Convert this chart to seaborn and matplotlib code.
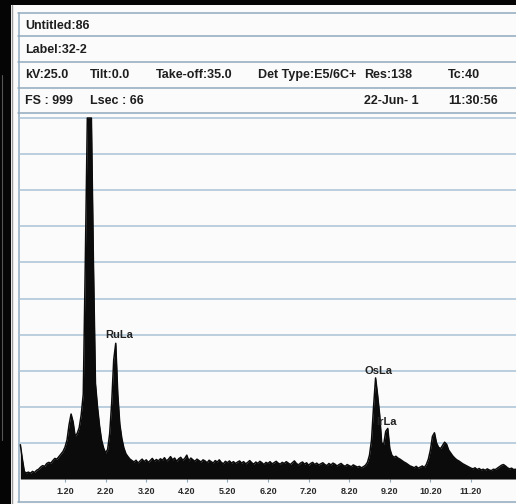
import numpy as np
import matplotlib
matplotlib.use("Agg")
import matplotlib.pyplot as plt
import seaborn as sns
from matplotlib.lines import Line2D
from matplotlib.patches import Rectangle

# EDS spectrum, one count per 0.05 keV channel starting at 0.10 keV
energy_start = 0.10
energy_step = 0.05
counts = [
    95, 55, 20, 17, 19, 16, 21, 18, 24, 27, 33, 37, 35, 43, 46, 44, 51, 57, 55, 62,
    69, 76, 88, 108, 150, 180, 158, 118, 126, 142, 178, 235, 600, 1000, 1000, 1000, 600, 265, 200, 148,
    108, 86, 72, 82, 125, 210, 330, 376, 235, 152, 112, 86, 70, 62, 55, 51, 47, 52, 44, 50,
    55, 48, 53, 46, 51, 57, 49, 54, 50, 56, 52, 59, 50, 55, 62, 53, 58, 49, 56, 60,
    52, 57, 66, 50, 58, 53, 49, 55, 51, 47, 53, 50, 45, 52, 48, 44, 51, 47, 53, 46,
    42, 49, 45, 50, 44, 48, 43, 47, 50, 44, 48, 42, 46, 51, 45, 41, 47, 43, 49, 45,
    40, 46, 43, 48, 42, 45, 49, 44, 41, 46, 43, 48, 44, 40, 45, 50, 43, 39, 44, 47,
    41, 45, 38, 43, 46, 40, 44, 39, 42, 45, 40, 37, 43, 39, 44, 41, 36, 40, 43, 38,
    35, 40, 37, 34, 39, 36, 33, 35, 31, 34, 38, 46, 66, 108, 200, 280, 232, 178, 100, 96,
    132, 140, 84, 66, 60, 63, 58, 55, 51, 47, 44, 40, 36, 34, 31, 35, 30, 33, 36, 32,
    40, 55, 80, 118, 128, 100, 88, 84, 93, 102, 96, 80, 72, 64, 58, 53, 50, 46, 42, 39,
    36, 33, 30, 28, 31, 26, 29, 25, 27, 24, 28, 25, 23, 27, 26, 30, 34, 38, 40, 36,
    31, 28, 30, 26, 27,
]
energy = np.round(energy_start + energy_step * np.arange(len(counts)), 2)

tick_kev = [1.2, 2.2, 3.2, 4.2, 5.2, 6.2, 7.2, 8.2, 9.2, 10.2, 11.2]
tick_labels = ["1.20", "2.20", "3.20", "4.20", "5.20", "6.20", "7.20", "8.20", "9.20", "10.20", "11.20"]

peak_labels = ["RuLa", "OsLa", "IrLa"]
peak_label_kev = [2.53, 8.91, 9.11]
peak_label_counts = [399, 299, 158]

header_row1 = ["Untitled:86"]
header_row2 = ["Label:32-2"]
header_row3 = ["kV:25.0", "Tilt:0.0", "Take-off:35.0", "Det Type:E5/6C+", "Res:138", "Tc:40"]
header_row4 = ["FS : 999", "Lsec : 66", "22-Jun- 1", "11:30:56"]

# layout in reference pixels
W, H = 516, 504
row_x3 = [25, 90, 156, 258, 364, 448]
row_x4 = [25, 90, 364, 448]
row_y = [26, 50, 75, 101]
line_col = "#8fa9bd"
grid_col = "#a8c2d5"
ink = "#1e1e1e"
head_size = 9


def fx(px):
    return px / W


def fy(py):
    return 1 - py / H


sns.set_theme(style="white")
plt.rcParams["font.family"] = ["Liberation Sans", "DejaVu Sans"]

fig = plt.figure(figsize=(W / 100, H / 100), dpi=100, facecolor="#050505")

# white sheet on black background
fig.patches.append(Rectangle((fx(11), 0), 1 - fx(11), fy(5), transform=fig.transFigure,
                             facecolor="#fbfbfc", edgecolor="none", zorder=-5))
fig.lines.append(Line2D([fx(1.5), fx(1.5)], [fy(75), fy(440)], transform=fig.transFigure,
                        color="#555555", lw=0.8, zorder=-4))
fig.lines.append(Line2D([fx(12), fx(12)], [0, fy(5)], transform=fig.transFigure,
                        color="#9a9a9a", lw=1, zorder=-4))

# header box lines
for py in [13, 36, 62, 88, 113, 502]:
    fig.lines.append(Line2D([fx(18), 1], [fy(py), fy(py)], transform=fig.transFigure,
                            color=line_col, lw=1.1, zorder=-4))
fig.lines.append(Line2D([fx(18.5), fx(18.5)], [fy(13), fy(502)], transform=fig.transFigure,
                        color=line_col, lw=1.1, zorder=-4))

# header text
fig.text(fx(25), fy(row_y[0]), header_row1[0], fontsize=head_size, fontweight="bold", color=ink, va="center")
fig.text(fx(25), fy(row_y[1]), header_row2[0], fontsize=head_size, fontweight="bold", color=ink, va="center")
for txt, px in zip(header_row3, row_x3):
    fig.text(fx(px), fy(row_y[2]), txt, fontsize=head_size, fontweight="bold", color=ink, va="center")
for txt, px in zip(header_row4, row_x4):
    fig.text(fx(px), fy(row_y[3]), txt, fontsize=head_size, fontweight="bold", color=ink, va="center")

# spectrum axes
ax = fig.add_axes([fx(19), fy(479), fx(516) - fx(19), (479 - 113) / H])
ax.set_facecolor("none")
ax.fill_between(energy, counts, color="#0b0b0b", lw=0, zorder=3)
sns.lineplot(x=energy, y=counts, ax=ax, color="#0b0b0b", lw=1.1, zorder=4)

ax.set_xlim(1.2 - 46 / 40.6, 1.2 + 451 / 40.6)
ax.set_ylim(0, 1014)
ax.set_yticks(range(100, 1001, 100))
ax.yaxis.grid(True, color=grid_col, lw=1.1)
ax.xaxis.grid(False)
ax.set_axisbelow(True)
ax.tick_params(axis="y", length=0, labelleft=False)
ax.set_xticks(tick_kev, tick_labels)
ax.tick_params(axis="x", bottom=True, length=2.5, width=0.8, color=line_col, pad=3.5,
               labelsize=6.5, labelcolor="#2a2a2a")
for lbl in ax.get_xticklabels():
    lbl.set_fontweight("bold")
for side in ["top", "right", "bottom", "left"]:
    ax.spines[side].set_visible(False)
ax.set_xlabel("")
ax.set_ylabel("")

for name, k, c in zip(peak_labels, peak_label_kev, peak_label_counts):
    ax.text(k, c, name, fontsize=8, fontweight="bold", color="#222222",
            ha="center", va="center", zorder=5)

fig.savefig("out.png", dpi=100, facecolor=fig.get_facecolor())
